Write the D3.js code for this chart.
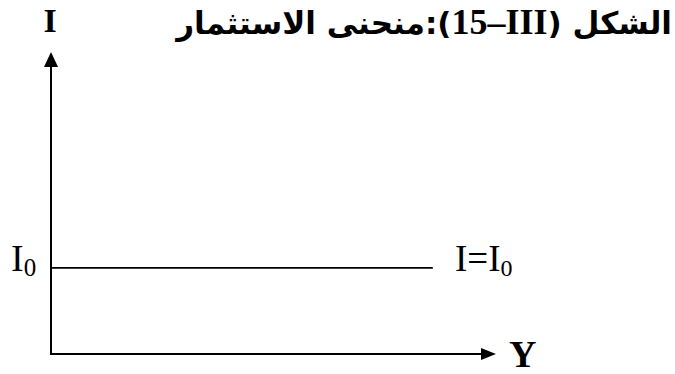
<!DOCTYPE html>
<html>
<head>
<meta charset="utf-8">
<script src="https://cdn.jsdelivr.net/npm/d3@7"></script>
<style>
  body { margin: 0; background: #fff; }
  .axis-line { stroke: #000; stroke-width: 2; fill: none; }
  .level-line { stroke: #000; stroke-width: 1.8; fill: none; }
  .latin { font-family: "Liberation Serif", "DejaVu Serif", serif; fill: #000; }
  .title { font-family: "DejaVu Sans", sans-serif; font-weight: bold; fill: #000; }
</style>
</head>
<body>
<div id="figure_id"></div>
<script>
// data of the schematic (arbitrary units)
var xDomain = [0, 10]
var yDomain = [0, 10]
var investLevel = 2.85 // I0, constant investment
var levelSeries = [{x: 0, y: investLevel}, {x: 8.58, y: investLevel}]
// title pieces, logical order (rtl)
var titleParts = ["الشكل (", "III\u200F–15", "):منحنى الاستثمار"]
var yAxisLabel = "I"
var xAxisLabel = "Y"
var levelLabel = "I"
var curveLabel = "I=I"
var subscript = "0"

var width = 675
    height = 374

var svg = d3.select("#figure_id")
    .append("svg")
    .attr("width", width)
    .attr("height", height)

// axis origin and tips
var x = d3.scaleLinear()
    .domain(xDomain)
    .range([51, 496])

var y = d3.scaleLinear()
    .domain(yDomain)
    .range([354, 52])

// -----------------------------------------------------------------------------
// axes with arrow heads

svg.append("line")
    .attr("class", "axis-line")
    .attr("x1", x(0)).attr("x2", x(0))
    .attr("y1", y(0) + 1).attr("y2", y(10) + 12)

svg.append("line")
    .attr("class", "axis-line")
    .attr("x1", x(0) - 1).attr("x2", x(10) - 12)
    .attr("y1", y(0)).attr("y2", y(0))

// y arrow
svg.append("path")
    .attr("d", "M" + x(0) + "," + y(10) + " L" + (x(0) - 7) + "," + (y(10) + 15) + " L" + (x(0) + 7) + "," + (y(10) + 15) + "Z")
    .attr("fill", "#000")

// x arrow
svg.append("path")
    .attr("d", "M" + x(10) + "," + y(0) + " L" + (x(10) - 15) + "," + (y(0) - 6) + " L" + (x(10) - 15) + "," + (y(0) + 6) + "Z")
    .attr("fill", "#000")

// I = I0 line
var valueline = d3.line()
    .x(function(d) { return x(d.x); })
    .y(function(d) { return y(d.y); })

svg.append("path")
    .attr("class", "level-line")
    .attr("d", valueline(levelSeries))

// -----------------------------------------------------------------------------
// labels

svg.append("text")
    .attr("class", "latin")
    .attr("x", x(0) - 1)
    .attr("y", 32)
    .attr("text-anchor", "middle")
    .style("font-size", "34px")
    .style("font-weight", "bold")
    .text(yAxisLabel)

svg.append("text")
    .attr("class", "latin")
    .attr("x", 509)
    .attr("y", 367)
    .style("font-size", "38px")
    .style("font-weight", "bold")
    .text(xAxisLabel)

var lab0 = svg.append("text")
    .attr("class", "latin")
    .attr("x", 11)
    .attr("y", y(investLevel) + 3)
    .style("font-size", "38px")
lab0.append("tspan").text(levelLabel)
lab0.append("tspan").attr("dy", 5).style("font-size", "25px").text(subscript)

var lab1 = svg.append("text")
    .attr("class", "latin")
    .attr("x", 455)
    .attr("y", y(investLevel) + 3)
    .style("font-size", "37px")
lab1.append("tspan").text(curveLabel)
lab1.append("tspan").attr("dy", 5).style("font-size", "24px").text(subscript)

// title (right to left), latin part in bold serif
var title = svg.append("text")
    .attr("class", "title")
    .attr("x", 672)
    .attr("y", 34)
    .attr("direction", "rtl")
    .attr("text-anchor", "start")
    .style("font-size", "31px")

title.append("tspan").text(titleParts[0])
title.append("tspan")
    .style("font-family", "'Liberation Serif', serif")
    .style("font-size", "36px")
    .text(titleParts[1])
title.append("tspan").text(titleParts[2])
</script>
</body>
</html>
